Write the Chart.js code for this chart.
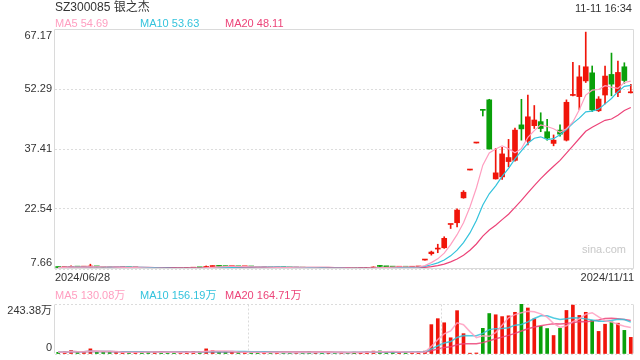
<!DOCTYPE html>
<html>
<head>
<meta charset="utf-8">
<title>SZ300085 银之杰</title>
<script src="https://cdn.jsdelivr.net/npm/chart.js@4.4.1/dist/chart.umd.min.js"></script>
<style>
  html, body { margin: 0; padding: 0; background: #fff; }
  #page { position: relative; width: 640px; height: 360px; overflow: hidden;
          font-family: "Liberation Sans", Arial, "Noto Sans CJK SC", sans-serif; }
  .box { position: absolute; left: 0; width: 640px; }
  .txt { position: absolute; white-space: nowrap; line-height: 1; }
</style>
</head>
<body>
<div id="page">
  <div class="box" style="top:0;height:290px"><canvas id="klineChart"></canvas></div>
  <div class="box" style="top:290px;height:70px"><canvas id="volumeChart"></canvas></div>

  <div class="txt" style="left:55px;top:1px;font-size:12px;color:#333">SZ300085 银之杰</div>
  <div class="txt" style="right:8px;top:3px;font-size:11px;color:#333">11-11 16:34</div>

  <div class="txt" style="left:55px;top:18px;font-size:11px;color:#ff9ec0">MA5 54.69</div>
  <div class="txt" style="left:140px;top:18px;font-size:11px;color:#34c3dc">MA10 53.63</div>
  <div class="txt" style="left:225px;top:18px;font-size:11px;color:#ec4479">MA20 48.11</div>

  <div class="txt" style="left:582px;top:244px;font-size:11px;color:#c8c8c8">sina.com</div>

  <div class="txt" style="left:55px;top:290px;font-size:11px;color:#ff9ec0">MA5 130.08万</div>
  <div class="txt" style="left:140px;top:290px;font-size:11px;color:#34c3dc">MA10 156.19万</div>
  <div class="txt" style="left:225px;top:290px;font-size:11px;color:#ec4479">MA20 164.71万</div>
</div>

<script>
// trading days shown on the chart
const dates = [
  '2024/06/28',
  '2024/07/01', '2024/07/02', '2024/07/03', '2024/07/04', '2024/07/05',
  '2024/07/08', '2024/07/09', '2024/07/10', '2024/07/11', '2024/07/12',
  '2024/07/15', '2024/07/16', '2024/07/17', '2024/07/18', '2024/07/19',
  '2024/07/22', '2024/07/23', '2024/07/24', '2024/07/25', '2024/07/26',
  '2024/07/29', '2024/07/30', '2024/07/31',
  '2024/08/01', '2024/08/02',
  '2024/08/05', '2024/08/06', '2024/08/07', '2024/08/08', '2024/08/09',
  '2024/08/12', '2024/08/13', '2024/08/14', '2024/08/15', '2024/08/16',
  '2024/08/19', '2024/08/20', '2024/08/21', '2024/08/22', '2024/08/23',
  '2024/08/26', '2024/08/27', '2024/08/28', '2024/08/29', '2024/08/30',
  '2024/09/02', '2024/09/03', '2024/09/04', '2024/09/05', '2024/09/06',
  '2024/09/09', '2024/09/10', '2024/09/11', '2024/09/12', '2024/09/13',
  '2024/09/18', '2024/09/19', '2024/09/20',
  '2024/09/23', '2024/09/24', '2024/09/25', '2024/09/26', '2024/09/27',
  '2024/09/30',
  '2024/10/08', '2024/10/09', '2024/10/10', '2024/10/11',
  '2024/10/14', '2024/10/15', '2024/10/16', '2024/10/17', '2024/10/18',
  '2024/10/21', '2024/10/22', '2024/10/23', '2024/10/24', '2024/10/25',
  '2024/10/28', '2024/10/29', '2024/10/30', '2024/10/31',
  '2024/11/01',
  '2024/11/04', '2024/11/05', '2024/11/06', '2024/11/07', '2024/11/08',
  '2024/11/11'
];

const opens = [
  8.10, 8.00, 8.07, 8.20, 8.12, 8.15, 8.30, 8.16, 8.08, 7.96,
  8.00, 8.04, 7.92, 7.95, 7.82, 7.70, 7.80, 7.76, 7.74, 7.70,
  7.76, 7.86, 8.00, 7.96, 8.26, 8.38, 8.30, 8.24, 8.28, 8.20,
  8.24, 8.16, 8.06, 8.10, 7.98, 8.04, 7.96, 7.88, 7.94, 7.86,
  7.78, 7.84, 7.80, 7.86, 7.80, 7.84, 7.78, 7.72, 7.76, 7.90,
  8.40, 8.28, 8.20, 8.10, 8.18, 8.10, 8.16, 9.88, 11.45, 12.60,
  12.93, 18.70, 19.13, 25.30, 32.20, 38.90, 47.10, 49.60, 30.00, 30.50,
  34.30, 34.60, 43.40, 39.40, 43.20, 44.20, 41.70, 38.80, 42.10, 39.60,
  50.70, 50.40, 54.30, 56.30, 46.90, 50.80, 55.90, 51.40, 57.80, 51.35
];
const highs = [
  8.14, 8.12, 8.45, 8.24, 8.22, 8.85, 8.32, 8.20, 8.10, 8.06,
  8.08, 8.06, 8.00, 7.97, 7.84, 7.82, 7.83, 7.79, 7.77, 7.80,
  7.90, 8.02, 8.04, 8.42, 8.45, 8.42, 8.34, 8.32, 8.30, 8.28,
  8.26, 8.18, 8.14, 8.12, 8.08, 8.06, 7.98, 7.98, 7.96, 7.88,
  7.88, 7.86, 7.90, 7.88, 7.88, 7.86, 7.80, 7.80, 7.92, 8.20,
  8.55, 8.32, 8.24, 8.22, 8.20, 8.20, 8.26, 9.88, 12.10, 13.80,
  15.66, 18.70, 22.60, 27.10, 32.20, 38.90, 47.10, 49.74, 37.58, 37.80,
  39.80, 42.60, 49.74, 50.80, 48.20, 46.40, 44.80, 40.90, 43.40, 49.60,
  58.90, 58.10, 66.40, 58.00, 50.40, 58.00, 61.20, 59.20, 58.80, 53.45
];
const lows = [
  7.98, 7.97, 8.05, 8.08, 8.08, 8.12, 8.12, 8.04, 7.94, 7.92,
  7.96, 7.90, 7.86, 7.78, 7.66, 7.67, 7.70, 7.68, 7.66, 7.67,
  7.74, 7.84, 7.90, 7.94, 8.20, 8.25, 8.20, 8.20, 8.16, 8.16,
  8.12, 8.04, 8.02, 7.96, 7.94, 7.92, 7.86, 7.85, 7.82, 7.74,
  7.75, 7.76, 7.78, 7.76, 7.77, 7.74, 7.68, 7.69, 7.73, 7.88,
  8.22, 8.14, 8.06, 8.06, 8.06, 8.06, 8.12, 9.88, 11.10, 11.70,
  12.78, 17.70, 18.10, 25.20, 32.20, 38.90, 45.60, 37.40, 29.95, 29.90,
  33.00, 34.40, 39.60, 38.40, 42.50, 41.70, 39.60, 38.20, 40.60, 39.40,
  50.60, 47.20, 53.90, 46.70, 46.70, 48.60, 50.60, 50.40, 53.70, 51.30
];
const closes = [
  8.02, 8.08, 8.22, 8.12, 8.16, 8.35, 8.18, 8.08, 7.98, 8.02,
  8.04, 7.94, 7.96, 7.82, 7.70, 7.78, 7.74, 7.72, 7.70, 7.76,
  7.85, 7.98, 7.95, 8.28, 8.36, 8.30, 8.24, 8.28, 8.20, 8.24,
  8.16, 8.08, 8.10, 8.00, 8.04, 7.96, 7.90, 7.94, 7.86, 7.78,
  7.84, 7.80, 7.86, 7.80, 7.84, 7.78, 7.72, 7.76, 7.88, 8.14,
  8.30, 8.20, 8.12, 8.18, 8.10, 8.16, 8.23, 9.88, 11.86, 12.75,
  15.26, 18.70, 22.28, 26.70, 32.20, 38.90, 47.00, 37.41, 31.50, 36.20,
  35.30, 42.10, 42.40, 45.40, 44.60, 42.50, 40.10, 39.60, 41.10, 49.00,
  50.80, 55.30, 57.80, 47.10, 49.80, 55.50, 53.50, 56.40, 54.40, 51.40
];
// volume, unit 万
const volumes = [
  8, 10, 17, 9, 8, 25, 11, 9, 8, 9,
  8, 9, 8, 10, 11, 9, 7, 7, 8, 8,
  10, 12, 10, 25, 16, 10, 9, 8, 8, 9,
  8, 7, 7, 8, 8, 7, 7, 8, 8, 9,
  8, 7, 8, 7, 8, 8, 9, 8, 10, 14,
  15, 10, 9, 8, 8, 9, 11, 14, 143, 172,
  152, 79, 211, 99, 4, 5, 125, 197, 191, 182,
  186, 203, 243.38, 224, 171, 135, 124, 90, 125, 212,
  238, 188, 203, 164, 110, 145, 156, 150, 115, 81
];

const priceTicks = [7.66, 22.54, 37.41, 52.29, 67.17];
const volumeTicks = [0, 243.38];
const maPeriods = [5, 10, 20];

const RED = '#f0150a';
const GREEN = '#0aa00a';
const MA_COLORS = ['#ff9ec0', '#34c3dc', '#ec4479'];
const VOL_MA_COLORS = ['rgba(255,158,192,0.85)', 'rgba(52,195,220,0.85)', 'rgba(236,68,121,0.85)'];
const FONT = '"Liberation Sans", Arial, "Noto Sans CJK SC", sans-serif';

Chart.defaults.font.family = FONT;
Chart.defaults.font.size = 11;
Chart.defaults.color = '#333';

function movingAvg(arr, n) {
  return arr.map((_, i) => {
    const part = arr.slice(Math.max(0, i - n + 1), i + 1);
    return part.reduce((s, v) => s + v, 0) / part.length;
  });
}

const barColors = closes.map((c, i) => (c >= opens[i] ? RED : GREEN));
const bodies = opens.map((o, i) => [o, closes[i]]);
const wicks = lows.map((l, i) => [l, highs[i]]);

// axis labels: top one hangs below the frame, bottom one sits above it
const edgeLabels = {
  id: 'edgeLabels',
  afterDraw(chart, args, opts) {
    const { ctx, chartArea: area } = chart;
    const y = chart.scales.y;
    ctx.save();
    ctx.font = '11px ' + FONT;
    ctx.fillStyle = '#333';
    ctx.textAlign = 'right';
    opts.ticks.forEach(v => {
      let py = y.getPixelForValue(v);
      ctx.textBaseline = 'middle';
      if (v === y.max) { ctx.textBaseline = 'top'; py += 1; }
      if (v === y.min) { ctx.textBaseline = 'bottom'; py -= 1; }
      ctx.fillText(opts.format(v), area.left - 3, py);
    });
    if (opts.dates) {
      ctx.textBaseline = 'middle';
      ctx.textAlign = 'left';
      ctx.fillText(opts.dates[0], area.left, area.bottom + 9);
      ctx.textAlign = 'right';
      ctx.fillText(opts.dates[opts.dates.length - 1], area.right, area.bottom + 9);
    }
    ctx.restore();
  }
};

const frame = {
  id: 'frame',
  afterDraw(chart, args, opts) {
    const { ctx, chartArea: a } = chart;
    const l = Math.round(a.left) - 0.5, r = Math.round(a.right) - 0.5;
    const t = Math.round(a.top) + 0.5, b = Math.round(a.bottom) - 0.5;
    ctx.save();
    ctx.lineWidth = 1;
    ctx.strokeStyle = '#dadada';
    ctx.beginPath();
    ctx.moveTo(l, t); ctx.lineTo(l, b);
    ctx.moveTo(r, t); ctx.lineTo(r, b);
    if (opts.closed) {
      ctx.moveTo(l, t); ctx.lineTo(r, t);
      ctx.moveTo(l, b); ctx.lineTo(r, b);
    }
    ctx.stroke();
    if (opts.thirds) {
      ctx.setLineDash([2, 2]);
      ctx.beginPath();
      [1, 2].forEach(k => {
        const x = Math.round(a.left + a.width * k / 3) + 0.5;
        ctx.moveTo(x, t); ctx.lineTo(x, b);
      });
      ctx.stroke();
    }
    ctx.restore();
  }
};

const dottedGrid = {
  color: '#dcdcdc',
  lineWidth: 1,
  drawTicks: false
};

// === price (K line) ===
const priceDatasets = [
  { type: 'bar', data: wicks, backgroundColor: barColors, barThickness: 1, grouped: false, order: 3 },
  { type: 'bar', data: bodies, backgroundColor: barColors, barThickness: 5, grouped: false, minBarLength: 1, order: 2 }
];
maPeriods.forEach((n, k) => {
  priceDatasets.push({
    type: 'line', data: movingAvg(closes, n), borderColor: MA_COLORS[k],
    borderWidth: 1.2, pointRadius: 0, tension: 0, order: 1
  });
});

new Chart(document.getElementById('klineChart'), {
  type: 'bar',
  data: { labels: dates, datasets: priceDatasets },
  options: {
    responsive: true,
    maintainAspectRatio: false,
    animation: false,
    layout: { padding: { top: 29, right: 6, bottom: 21, left: 0 } },
    plugins: {
      legend: { display: false },
      tooltip: { enabled: false },
      edgeLabels: { ticks: priceTicks, format: v => v.toFixed(2), dates: dates },
      frame: { closed: true }
    },
    scales: {
      x: { display: false, offset: true },
      y: {
        min: priceTicks[0],
        max: priceTicks[priceTicks.length - 1],
        afterBuildTicks: s => { s.ticks = priceTicks.map(v => ({ value: v })); },
        afterFit: s => { s.width = 55; },
        ticks: { display: false },
        grid: dottedGrid,
        border: { display: false, dash: [2, 2] }
      }
    }
  },
  plugins: [edgeLabels, frame]
});

// === volume ===
const volumeDatasets = [
  { type: 'bar', data: volumes, backgroundColor: barColors, barThickness: 3, grouped: false, order: 2 }
];
maPeriods.forEach((n, k) => {
  volumeDatasets.push({
    type: 'line', data: movingAvg(volumes, n), borderColor: VOL_MA_COLORS[k],
    borderWidth: 1.5, pointRadius: 0, tension: 0, order: 1
  });
});

new Chart(document.getElementById('volumeChart'), {
  type: 'bar',
  data: { labels: dates, datasets: volumeDatasets },
  options: {
    responsive: true,
    maintainAspectRatio: false,
    animation: false,
    layout: { padding: { top: 14, right: 6, bottom: 6, left: 0 } },
    plugins: {
      legend: { display: false },
      tooltip: { enabled: false },
      edgeLabels: { ticks: volumeTicks, format: v => (v === 0 ? '0' : v.toFixed(2) + '万') },
      frame: { closed: false, thirds: true }
    },
    scales: {
      x: { display: false, offset: true },
      y: {
        min: volumeTicks[0],
        max: volumeTicks[1],
        afterBuildTicks: s => { s.ticks = volumeTicks.map(v => ({ value: v })); },
        afterFit: s => { s.width = 55; },
        ticks: { display: false },
        grid: dottedGrid,
        border: { display: false, dash: [2, 2] }
      }
    }
  },
  plugins: [edgeLabels, frame]
});
</script>
</body>
</html>
